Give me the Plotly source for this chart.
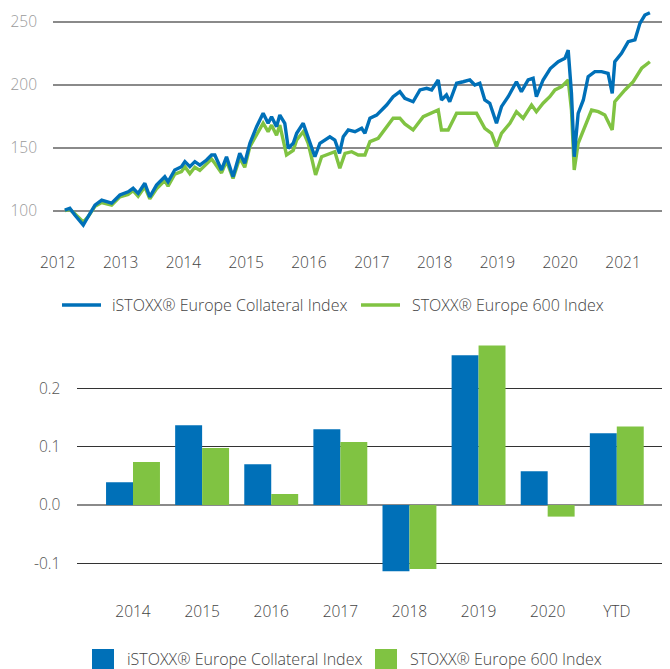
import plotly.graph_objects as go

# ---------------- data ----------------
series_names = ["iSTOXX® Europe Collateral Index", "STOXX® Europe 600 Index"]
series_colors = ["#0070B8", "#80C342"]

blue_dates = [
    "2012-02-12", "2012-03-12", "2012-04-10", "2012-05-29", "2012-06-25", "2012-08-05", "2012-09-13", "2012-11-10", "2012-12-28",
    "2013-02-14", "2013-03-15", "2013-04-13", "2013-05-22", "2013-06-20", "2013-07-29", "2013-09-15", "2013-10-04", "2013-11-12", "2013-12-21",
    "2014-01-10", "2014-02-08", "2014-03-09", "2014-04-07", "2014-05-16", "2014-06-14", "2014-07-03", "2014-08-11", "2014-09-09", "2014-10-17", "2014-11-25", "2014-12-24",
    "2015-01-23", "2015-03-03", "2015-04-10", "2015-05-09", "2015-05-29", "2015-06-27", "2015-07-16", "2015-08-14", "2015-09-03", "2015-10-02", "2015-10-22", "2015-11-29", "2015-12-28",
    "2016-02-05", "2016-03-05", "2016-04-03", "2016-05-02", "2016-05-31", "2016-06-27", "2016-07-19", "2016-08-17", "2016-09-25", "2016-11-03", "2016-11-22", "2016-12-21",
    "2017-01-29", "2017-02-27", "2017-03-28", "2017-05-05", "2017-06-13", "2017-07-12", "2017-08-29", "2017-10-08", "2017-11-16", "2017-12-15",
    "2018-01-22", "2018-02-10", "2018-03-11", "2018-03-30", "2018-05-09", "2018-06-16", "2018-07-25", "2018-08-23", "2018-09-21", "2018-10-20", "2018-11-18", "2018-12-27",
    "2019-01-25", "2019-03-05", "2019-04-22", "2019-05-21", "2019-06-29", "2019-07-28", "2019-08-16", "2019-09-24", "2019-11-05", "2019-12-21",
    "2020-01-29", "2020-02-17", "2020-03-07", "2020-03-23", "2020-04-15", "2020-05-15", "2020-06-12", "2020-07-21", "2020-08-29", "2020-10-06", "2020-10-30", "2020-11-14", "2020-12-23",
    "2021-01-31", "2021-03-11", "2021-04-09", "2021-05-08", "2021-06-06",
]
blue_values = [
    100.5, 102, 96.6, 88.6, 95, 104.5, 108.5, 106, 112.5,
    115, 117.8, 113.8, 121.8, 111, 120.4, 127, 123, 132.4, 135,
    139, 135, 139, 136.3, 140.3, 144.3, 144.3, 132.4, 142.9, 127, 145.6, 137.7,
    153.6, 166.8, 177.4, 169.5, 174.7, 166.8, 176, 169.5, 149.6, 153.6, 161.5, 169.5, 158.8,
    142.9, 153.6, 156.2, 158.8, 156.2, 145.6, 158.8, 164.2, 162.8, 165.5, 161.5, 173.5,
    176, 180, 184, 190.6, 194.6, 189.3, 186.6, 196, 197.3, 196,
    203.9, 188, 192, 186.6, 201.3, 202.5, 203.9, 199.9, 201.3, 188, 185.4, 169.5,
    182.7, 190.6, 202.5, 194.6, 203.9, 205.2, 190.6, 203.9, 213, 218.4,
    221.1, 227.7, 193.3, 142.9, 177.4, 188, 206.5, 210.5, 210.5, 209.2, 193.3, 218.4, 225.1,
    234.3, 235.7, 248.9, 255.5, 257.4,
]

green_dates = [
    "2012-02-12", "2012-03-12", "2012-04-10", "2012-05-29", "2012-06-25", "2012-08-05", "2012-09-13", "2012-11-10", "2012-12-28",
    "2013-02-14", "2013-03-15", "2013-04-13", "2013-05-22", "2013-06-20", "2013-07-29", "2013-09-15", "2013-10-04", "2013-11-12", "2013-12-21",
    "2014-01-10", "2014-02-08", "2014-03-09", "2014-04-07", "2014-05-16", "2014-06-14", "2014-07-03", "2014-08-11", "2014-09-09", "2014-10-17", "2014-11-25", "2014-12-24",
    "2015-01-23", "2015-03-03", "2015-04-10", "2015-05-09", "2015-05-29", "2015-06-27", "2015-07-16", "2015-08-24", "2015-10-02", "2015-10-22", "2015-11-29", "2015-12-28",
    "2016-02-09", "2016-03-15", "2016-04-03", "2016-05-02", "2016-05-31", "2016-06-29", "2016-07-29", "2016-09-06", "2016-10-14", "2016-11-22", "2016-12-21",
    "2017-02-07", "2017-03-18", "2017-05-05", "2017-06-13", "2017-07-12", "2017-08-29", "2017-10-27",
    "2018-01-22", "2018-02-10", "2018-03-21", "2018-05-09", "2018-07-06", "2018-09-02", "2018-10-20", "2018-11-28", "2018-12-27",
    "2019-01-25", "2019-03-15", "2019-04-22", "2019-05-31", "2019-07-19", "2019-08-16", "2019-09-24", "2019-11-02", "2019-12-02",
    "2020-01-10", "2020-02-17", "2020-03-07", "2020-03-23", "2020-04-15", "2020-05-24", "2020-07-02", "2020-08-10", "2020-09-17", "2020-10-30", "2020-11-14",
    "2021-01-12", "2021-03-01", "2021-04-19", "2021-06-06",
]
green_values = [
    100, 101, 97.5, 91, 95, 103.5, 106.5, 104.5, 111,
    113, 116, 111.5, 119, 109.5, 117.5, 124, 119.5, 129, 131,
    135, 129.5, 134.5, 132, 137, 141, 137.7, 130, 139.5, 125.7, 142, 134.5,
    150.9, 161, 169.5, 162.8, 168, 160, 168.1, 144.3, 148, 156.2, 162.8, 153.6,
    128.4, 142.9, 144, 145.6, 146.9, 133.7, 145.6, 146.9, 144.3, 144.3, 154.9,
    157.5, 164.2, 173.5, 173.5, 169, 164.2, 174.7,
    180, 164.2, 164.2, 177.4, 177.4, 177.4, 165.5, 161.5, 150.9,
    161.5, 169.5, 178.7, 173.5, 184, 178.7, 185.4, 190.6, 196,
    198.6, 203.9, 180, 132.4, 153.6, 166.8, 180, 178.7, 176, 164.2, 186.6,
    196, 202.5, 213.2, 218.4,
]

line_ticks = [100, 150, 200, 250]

bar_categories = ["2014", "2015", "2016", "2017", "2018", "2019", "2020", "YTD"]
bar_blue = [0.039, 0.137, 0.070, 0.130, -0.114, 0.257, 0.058, 0.123]
bar_green = [0.074, 0.098, 0.019, 0.108, -0.110, 0.274, -0.020, 0.135]
bar_ticks = [-0.1, 0.0, 0.1, 0.2]
bar_ticktext = ["-0.1", "0.0", "0.1", "0.2"]

# ---------------- figure ----------------
# the page body adds an 8px margin, so the figure is sized to fill the rest of the window
OFF = 8
W, H = 670 - OFF, 669 - OFF
FONT = "Open Sans, Noto Sans, sans-serif"
FW = 300
TICK = 15.5
LEG = 16


def pyf(p):
    return min(1.0, max(0.0, (H - (p - OFF)) / H))


def pxf(x):
    return min(1.0, max(0.0, (x - OFF) / W))


fig = go.Figure()

fig.add_trace(go.Scatter(x=green_dates, y=green_values, mode="lines", name=series_names[1],
                         line=dict(color=series_colors[1], width=3.4), xaxis="x", yaxis="y",
                         showlegend=False))
fig.add_trace(go.Scatter(x=blue_dates, y=blue_values, mode="lines", name=series_names[0],
                         line=dict(color=series_colors[0], width=3.4), xaxis="x", yaxis="y",
                         showlegend=False))

fig.add_trace(go.Bar(x=bar_categories, y=bar_blue, name=series_names[0], marker_color=series_colors[0],
                     xaxis="x2", yaxis="y2", showlegend=False))
fig.add_trace(go.Bar(x=bar_categories, y=bar_green, name=series_names[1], marker_color=series_colors[1],
                     xaxis="x2", yaxis="y2", showlegend=False))

fig.update_layout(
    template="none",
    width=W, height=H, autosize=False,
    margin=dict(l=0, r=0, t=0, b=0, pad=0),
    paper_bgcolor="white", plot_bgcolor="white",
    font=dict(family=FONT, size=TICK, color="#444", weight=FW),
    barmode="group", bargap=0.22, bargroupgap=0,
    xaxis=dict(domain=[pxf(53), 1], anchor="y", type="date",
               range=["2011-12-05", "2021-10-01"], tick0="2012-01-01", dtick="M12", tickformat="%Y",
               showgrid=False, zeroline=False, showline=False, ticks="", automargin=False,
               ticklabelstandoff=16, tickfont=dict(size=TICK, color="#444", weight=FW)),
    yaxis=dict(domain=[pyf(235), pyf(8)], anchor="x", range=[80.7, 261.1], tickvals=line_ticks,
               showgrid=True, gridcolor="#8a8a8a", gridwidth=1.6, zeroline=False, showline=False,
               ticks="", automargin=False, ticklabelstandoff=15,
               tickfont=dict(size=TICK, color="#9a9a9a", weight=FW)),
    xaxis2=dict(domain=[pxf(77.3), 1], anchor="y2", type="category", range=[-0.806, 7.77],
                showgrid=False, zeroline=False, showline=False, ticks="", automargin=False,
                ticklabelstandoff=20, tickfont=dict(size=TICK, color="#444", weight=FW)),
    yaxis2=dict(domain=[pyf(580), pyf(335)], anchor="x2", range=[-0.1289, 0.292],
                tickvals=bar_ticks, ticktext=bar_ticktext,
                showgrid=True, gridcolor="#333", gridwidth=1,
                zeroline=True, zerolinecolor="#8a8a8a", zerolinewidth=2,
                showline=False, ticks="", automargin=False, ticklabelstandoff=16,
                tickfont=dict(size=TICK, color="#555", weight=FW)),
)

shapes = []
annotations = []
line_leg = [(62, 101, 110), (361, 400, 410)]
for i, (x0, x1, tx) in enumerate(line_leg):
    shapes.append(dict(type="line", xref="paper", yref="paper", x0=pxf(x0), x1=pxf(x1),
                       y0=pyf(305), y1=pyf(305), line=dict(color=series_colors[i], width=3.4)))
    annotations.append(dict(xref="paper", yref="paper", x=pxf(tx), y=pyf(305), text=series_names[i],
                            showarrow=False, xanchor="left", yanchor="middle",
                            font=dict(family=FONT, size=LEG, color="#444", weight=FW)))
bar_leg = [(92, 114, 125), (375, 397, 408)]
for i, (x0, x1, tx) in enumerate(bar_leg):
    shapes.append(dict(type="rect", xref="paper", yref="paper", x0=pxf(x0), x1=pxf(x1),
                       y0=pyf(669), y1=pyf(649), line=dict(width=0), fillcolor=series_colors[i]))
    annotations.append(dict(xref="paper", yref="paper", x=pxf(tx), y=pyf(659), text=series_names[i],
                            showarrow=False, xanchor="left", yanchor="middle",
                            font=dict(family=FONT, size=LEG, color="#444", weight=FW)))
fig.update_layout(shapes=shapes, annotations=annotations)

fig.write_html("out.html")
